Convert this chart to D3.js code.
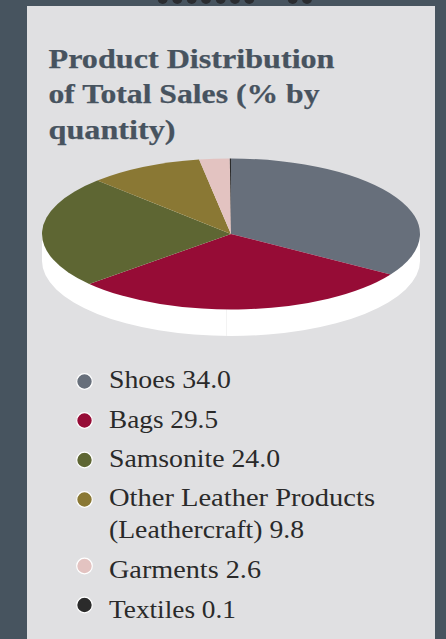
<!DOCTYPE html>
<html><head><meta charset="utf-8">
<script src="https://cdn.jsdelivr.net/npm/d3@7/dist/d3.min.js"></script>
<style>
html,body{margin:0;padding:0;background:#47545f;overflow:hidden}
text{font-family:"Liberation Serif",serif}
</style></head>
<body><svg id="c" width="446" height="639"></svg>
<script>
const categories = ["Shoes","Bags","Samsonite","Other Leather Products","Garments","Textiles"];
const shares = [34.0,29.5,24.0,9.8,2.6,0.1];
const legendLines = [["Shoes 34.0"],["Bags 29.5"],["Samsonite 24.0"],["Other Leather Products","(Leathercraft) 9.8"],["Garments 2.6"],["Textiles 0.1"]];
const colors = ["#676f7b","#960c36","#5e6633","#8a7834","#e3c3c1","#2b2b2b"];
const titleLines = ["Product Distribution","of Total Sales (% by","quantity)"];
const navDots = [162.7,177.3,191.7,206,220.7,235,249.3,292.7,307];

const svg = d3.select("#c");
svg.append("g").selectAll("circle").data(navDots).join("circle")
  .attr("cx",d=>d).attr("cy",-1).attr("r",5).attr("fill","#2a2c30");
svg.append("rect").attr("x",27).attr("y",6).attr("width",408).attr("height",640).attr("fill","#e0e0e2");

const title = svg.append("g");
title.selectAll("text").data(titleLines).join("text")
  .attr("x",48.5).attr("y",(d,i)=>[67.5,102.5,139][i])
  .attr("font-size",28).attr("font-weight","bold").attr("fill","#47535f")
  .attr("stroke","#47535f").attr("stroke-width",0.25)
  .attr("textLength",(d,i)=>[286,271,127][i]).attr("lengthAdjust","spacingAndGlyphs")
  .text(d=>d);

// Tilted pie: a circular layout squashed vertically, over a white rim.
const cx=231, cy=234, rx=189, ry=75.5, depth=26.5;
const squash = ry/rx;
const pieData = d3.pie().sort(null).value(d=>d)(shares);
const arc = d3.arc().innerRadius(0).outerRadius(rx);
const full = {startAngle:0,endAngle:2*Math.PI};
const rimG = svg.append("g").attr("transform",`translate(${cx},${cy+depth}) scale(1,${squash})`);
rimG.append("path").attr("d",arc(full)).attr("fill","#ffffff");
svg.append("rect").attr("x",cx-rx).attr("y",cy).attr("width",2*rx).attr("height",depth).attr("fill","#ffffff");
// Faint seam where the two halves of the rim meet
svg.append("line").attr("x1",226.5).attr("x2",226.5).attr("y1",cy+ry).attr("y2",cy+ry+depth)
  .attr("stroke","#f0f0f0").attr("stroke-width",0.8);
const face = svg.append("g").attr("transform",`translate(${cx},${cy}) scale(1,${squash})`);
face.selectAll("path").data(pieData).join("path")
  .attr("d",arc).attr("fill",(d,i)=>colors[i]);

// Legend
const rowY = [380,420,459,498,570,610];
const legend = svg.append("g");
const rows = legend.selectAll("g").data(legendLines).join("g");
rows.append("circle").attr("cx",84.5).attr("cy",(d,i)=>[381.5,420.5,460,499.5,566,605][i])
  .attr("r",7.8).attr("fill",(d,i)=>colors[i]).attr("stroke","#fff").attr("stroke-width",1.2);
const widths = [[122],[109],[171],[266,195],[152],[127]];
rows.each(function(lines,i){
  d3.select(this).selectAll("text").data(lines).join("text")
    .attr("x",109).attr("y",(d,j)=>rowY[i]+8+j*32)
    .attr("font-size",25.5).attr("fill","#2a2a2a")
    .attr("textLength",(d,j)=>widths[i][j]).attr("lengthAdjust","spacingAndGlyphs")
    .text(d=>d);
});
</script></body></html>
